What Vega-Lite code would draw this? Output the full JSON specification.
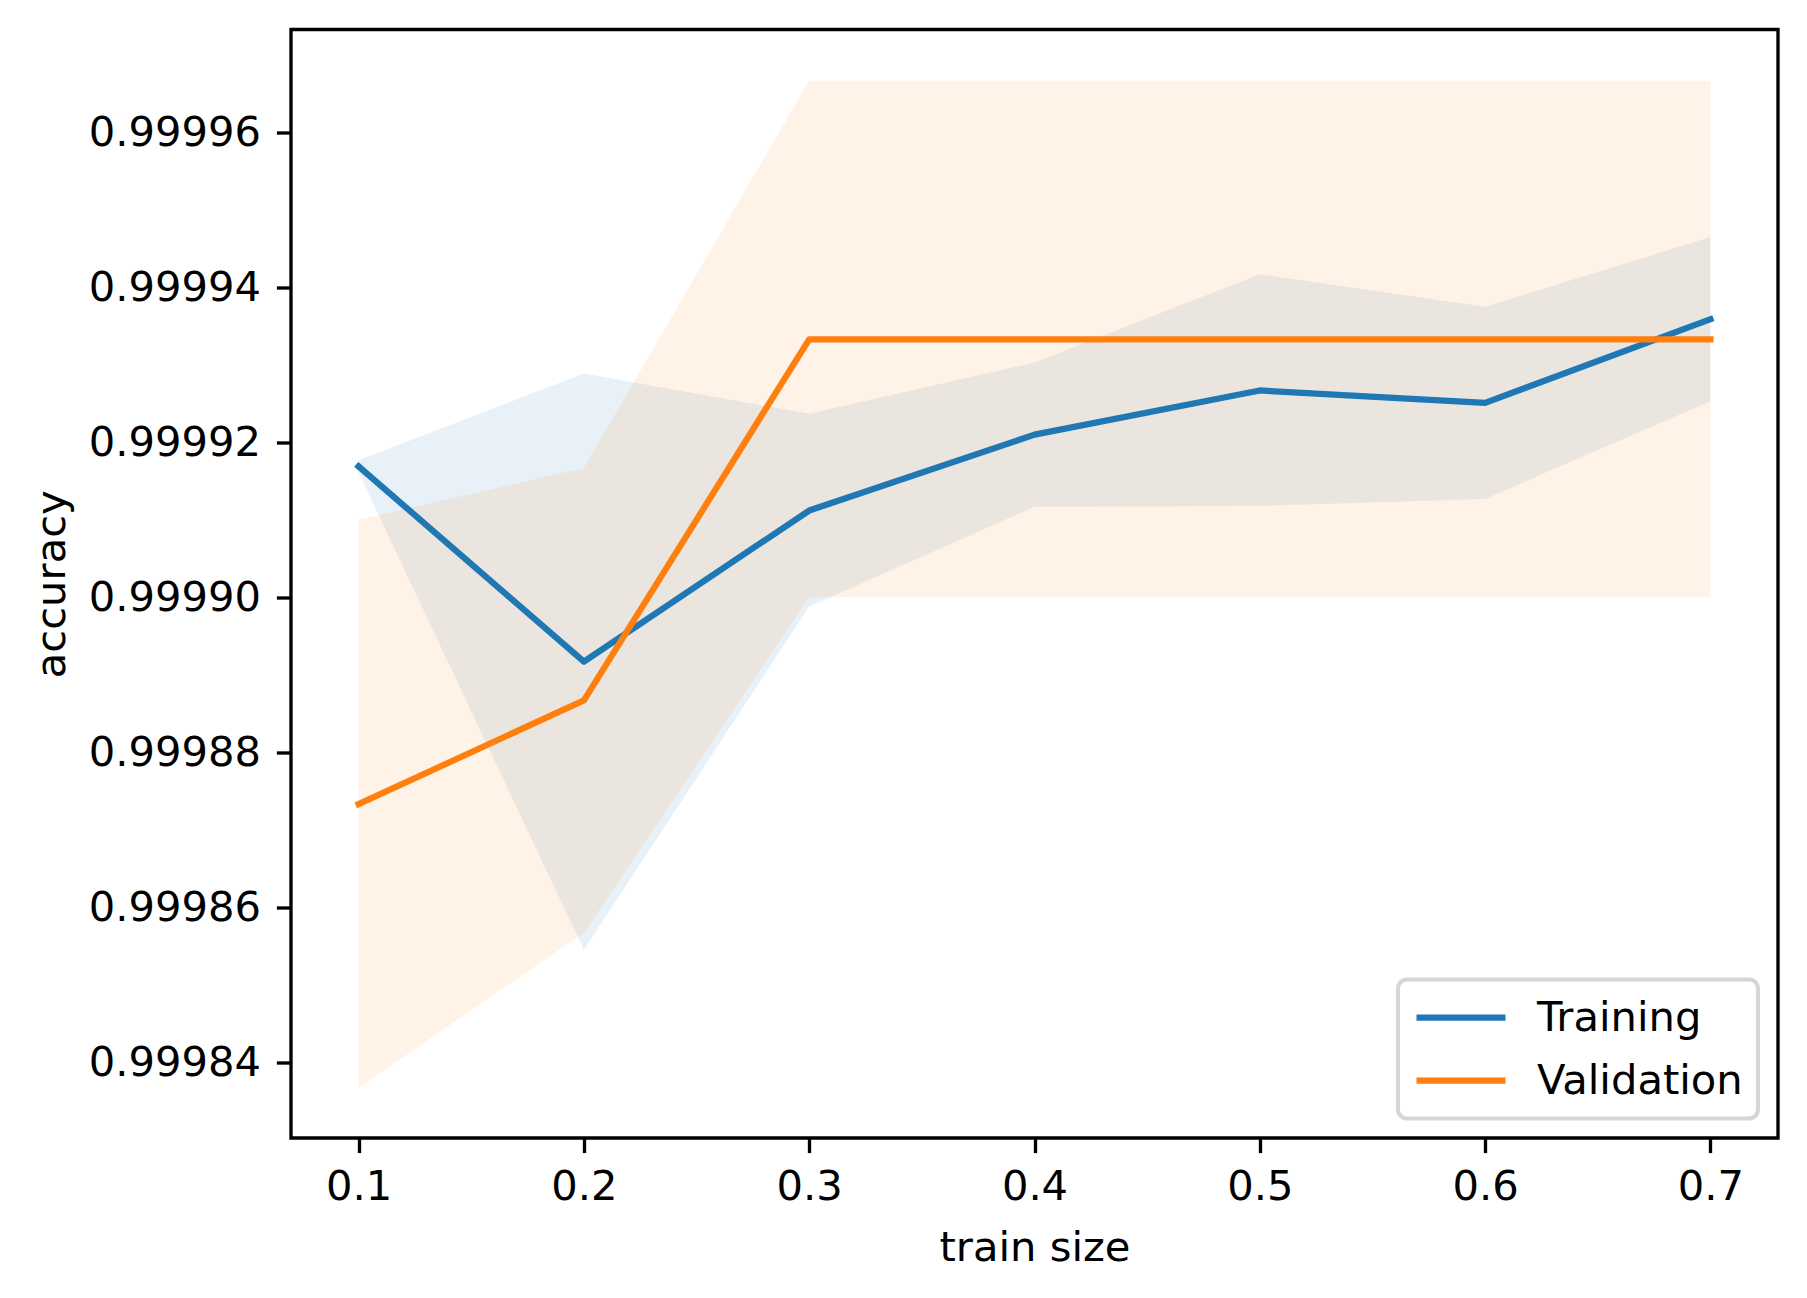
{
  "$schema": "https://vega.github.io/schema/vega-lite/v6.json",
  "autosize": {"type": "none"},
  "padding": {"left": 291, "top": 29.5, "right": 29, "bottom": 160},
  "width": 1487,
  "height": 1108.5,
  "background": "white",
  "data": {
    "values": [
      {"train_size": 0.1, "series": "Training", "mean": 0.9999169, "lower": 0.9999161, "upper": 0.9999177},
      {"train_size": 0.2, "series": "Training", "mean": 0.9998917, "lower": 0.9998545, "upper": 0.9999289},
      {"train_size": 0.3, "series": "Training", "mean": 0.9999112, "lower": 0.9998988, "upper": 0.9999237},
      {"train_size": 0.4, "series": "Training", "mean": 0.9999210, "lower": 0.9999117, "upper": 0.9999303},
      {"train_size": 0.5, "series": "Training", "mean": 0.9999267, "lower": 0.9999118, "upper": 0.9999417},
      {"train_size": 0.6, "series": "Training", "mean": 0.9999251, "lower": 0.9999127, "upper": 0.9999375},
      {"train_size": 0.7, "series": "Training", "mean": 0.9999359, "lower": 0.9999253, "upper": 0.9999465},
      {"train_size": 0.1, "series": "Validation", "mean": 0.9998733, "lower": 0.9998367, "upper": 0.9999100},
      {"train_size": 0.2, "series": "Validation", "mean": 0.9998867, "lower": 0.9998567, "upper": 0.9999167},
      {"train_size": 0.3, "series": "Validation", "mean": 0.9999333, "lower": 0.9999000, "upper": 0.9999667},
      {"train_size": 0.4, "series": "Validation", "mean": 0.9999333, "lower": 0.9999000, "upper": 0.9999667},
      {"train_size": 0.5, "series": "Validation", "mean": 0.9999333, "lower": 0.9999000, "upper": 0.9999667},
      {"train_size": 0.6, "series": "Validation", "mean": 0.9999333, "lower": 0.9999000, "upper": 0.9999667},
      {"train_size": 0.7, "series": "Validation", "mean": 0.9999333, "lower": 0.9999000, "upper": 0.9999667}
    ]
  },
  "encoding": {
    "x": {
      "field": "train_size",
      "type": "quantitative",
      "title": "train size",
      "scale": {"domain": [0.07, 0.73], "nice": false, "zero": false},
      "axis": {"values": [0.1, 0.2, 0.3, 0.4, 0.5, 0.6, 0.7], "format": ".1f", "labelPadding": 14, "titlePadding": 19}
    },
    "y": {
      "field": "mean",
      "type": "quantitative",
      "title": "accuracy",
      "scale": {"domain": [0.9998302, 0.9999733], "nice": false, "zero": false},
      "axis": {
        "values": [0.99984, 0.99986, 0.99988, 0.9999, 0.99992, 0.99994, 0.99996],
        "format": ".5f",
        "labelPadding": 16,
        "titlePadding": 18
      }
    }
  },
  "layer": [
    {
      "transform": [{"filter": "datum.series === 'Training'"}],
      "mark": {"type": "area", "color": "#1f77b4", "opacity": 0.1, "strokeWidth": 0},
      "encoding": {
        "y": {"field": "upper", "type": "quantitative"},
        "y2": {"field": "lower"}
      }
    },
    {
      "transform": [{"filter": "datum.series === 'Validation'"}],
      "mark": {"type": "area", "color": "#ff7f0e", "opacity": 0.1, "strokeWidth": 0},
      "encoding": {
        "y": {"field": "upper", "type": "quantitative"},
        "y2": {"field": "lower"}
      }
    },
    {
      "mark": {"type": "line", "strokeWidth": 6.25, "strokeCap": "square", "strokeJoin": "round"},
      "encoding": {
        "color": {
          "field": "series",
          "type": "nominal",
          "scale": {"domain": ["Training", "Validation"], "range": ["#1f77b4", "#ff7f0e"]},
          "legend": {
            "title": null,
            "orient": "bottom-right",
            "offset": 20,
            "symbolType": "stroke",
            "symbolSize": 7921,
            "symbolStrokeWidth": 6.25,
            "clipHeight": 46,
            "rowPadding": 17,
            "labelOffset": 28,
            "labelLimit": 600,
            "padding": 15,
            "strokeColor": "#d6d6d6",
            "fillColor": "white",
            "cornerRadius": 9
          }
        }
      }
    }
  ],
  "config": {
    "font": "DejaVu Sans",
    "view": {"stroke": "black", "strokeWidth": 3.33},
    "axis": {
      "domain": false,
      "grid": false,
      "ticks": true,
      "tickColor": "black",
      "tickWidth": 3.33,
      "tickSize": 14.6,
      "labelColor": "black",
      "labelFont": "DejaVu Sans",
      "labelFontSize": 41.67,
      "titleColor": "black",
      "titleFont": "DejaVu Sans",
      "titleFontSize": 41.67,
      "titleFontWeight": "normal"
    },
    "legend": {
      "labelFont": "DejaVu Sans",
      "labelFontSize": 41.67,
      "labelColor": "black",
      "strokeWidth": 4
    }
  }
}
